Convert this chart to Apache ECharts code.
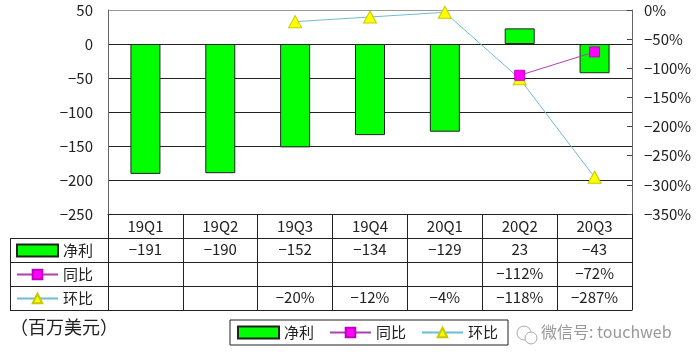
<!DOCTYPE html>
<html><head><meta charset="utf-8">
<script src="https://cdn.jsdelivr.net/npm/echarts@6/dist/echarts.min.js"></script>
<style>html,body{margin:0;padding:0;background:#fff}#c{width:700px;height:363px}</style>
</head><body><div id="c"></div>
<script>
const categories = ['19Q1','19Q2','19Q3','19Q4','20Q1','20Q2','20Q3'];
const netProfit = [-191, -190, -152, -134, -129, 23, -43];
const yoy = [null, null, null, null, null, -112, -72];
const qoq = [null, null, -20, -12, -4, -118, -287];
const leftTicks = {min: -250, max: 50, interval: 50};
const rightTicks = {min: -350, max: 0, interval: 50};

const FONT = '"Noto Sans CJK SC", "DejaVu Sans", sans-serif';
const minus = s => String(s).replace('-', '\u2212');
const pct = v => (v == null ? '' : minus(v) + '%');
const rowAxis = (offset, data) => ({
  type: 'category', position: 'bottom', offset: offset, data: data,
  axisLine: {show: true, onZero: false, lineStyle: {color: '#222', width: 1}},
  axisTick: {show: false}, splitLine: {show: false},
  axisLabel: {show: true, interval: 0, margin: 4, color: '#222', fontSize: 15, fontFamily: FONT}
});

const chart = echarts.init(document.getElementById('c'));
chart.setOption({
  animation: false,
  textStyle: {fontFamily: FONT},
  grid: {left: 108, right: 68, top: 10, bottom: 149, containLabel: false},
  legend: [
    {data: [{name: '净利', icon: 'rect'}], left: 16, top: 243, padding: 0, itemWidth: 41, itemHeight: 12,
     textStyle: {fontSize: 15, color: '#222', fontFamily: FONT}, selectedMode: false},
    {data: ['同比'], left: 16, top: 267, padding: 0, itemWidth: 41, itemHeight: 12,
     textStyle: {fontSize: 15, color: '#222', fontFamily: FONT}, selectedMode: false},
    {data: ['环比'], left: 16, top: 291, padding: 0, itemWidth: 41, itemHeight: 12,
     textStyle: {fontSize: 15, color: '#222', fontFamily: FONT}, selectedMode: false},
    {data: [{name: '净利', icon: 'rect'}, '同比', '环比'], left: 230, top: 320, padding: [5, 10, 5, 7],
     borderColor: '#222', borderWidth: 1, itemWidth: 41, itemHeight: 12, itemGap: 15,
     textStyle: {fontSize: 15, color: '#222', fontFamily: FONT}, selectedMode: false}
  ],
  xAxis: [
    {type: 'category', data: categories, position: 'bottom',
     axisLine: {show: true, onZero: false, lineStyle: {color: '#222'}},
     axisTick: {show: true, interval: 0, length: 96, lineStyle: {color: '#222'}},
     axisLabel: {interval: 0, margin: 5, color: '#222', fontSize: 15, fontFamily: FONT}},
    rowAxis(24, netProfit.map(minus)),
    rowAxis(48, yoy.map(pct)),
    rowAxis(72, qoq.map(pct)),
    Object.assign(rowAxis(96, categories.map(() => '')), {axisLabel: {show: false}})
  ],
  yAxis: [
    {type: 'value', min: leftTicks.min, max: leftTicks.max, interval: leftTicks.interval,
     axisLine: {show: true, lineStyle: {color: '#666'}}, axisTick: {show: false},
     axisLabel: {margin: 15, color: '#222', fontSize: 15, fontFamily: FONT, formatter: v => minus(v)},
     splitLine: {show: true, lineStyle: {color: ['#222','#222','#222','#222','#222','#222','#999'], width: 1}}},
    {type: 'value', min: rightTicks.min, max: rightTicks.max, interval: rightTicks.interval, position: 'right',
     axisLine: {show: true, lineStyle: {color: '#666'}},
     axisTick: {show: true, inside: true, length: 5, lineStyle: {color: '#444'}},
     axisLabel: {margin: 12, color: '#222', fontSize: 15, fontFamily: FONT, formatter: v => minus(v) + '%'},
     splitLine: {show: false}}
  ],
  series: [
    {name: '净利', type: 'bar', data: netProfit, barWidth: 30, xAxisIndex: 0, yAxisIndex: 0,
     itemStyle: {color: '#00FF00', borderColor: '#222', borderWidth: 1}, z: 2},
    {name: '环比', type: 'line', data: qoq, xAxisIndex: 0, yAxisIndex: 1,
     symbol: 'triangle', symbolSize: [13, 12], showAllSymbol: true,
     lineStyle: {color: '#6DBCD6', width: 1},
     itemStyle: {color: '#FFFF00', borderColor: '#C8C800', borderWidth: 1}, z: 3},
    {name: '同比', type: 'line', data: yoy, xAxisIndex: 0, yAxisIndex: 1,
     symbol: 'rect', symbolSize: 10, showAllSymbol: true,
     lineStyle: {color: '#B040B0', width: 1},
     itemStyle: {color: '#FF00FF', borderColor: '#C000C0', borderWidth: 1}, z: 4}
  ],
  graphic: [
    {type: 'line', shape: {x1: 10, y1: 238.5, x2: 108, y2: 238.5}, style: {stroke: '#222', lineWidth: 1}},
    {type: 'line', shape: {x1: 10, y1: 262.5, x2: 108, y2: 262.5}, style: {stroke: '#222', lineWidth: 1}},
    {type: 'line', shape: {x1: 10, y1: 286.5, x2: 108, y2: 286.5}, style: {stroke: '#222', lineWidth: 1}},
    {type: 'line', shape: {x1: 10, y1: 310.5, x2: 108, y2: 310.5}, style: {stroke: '#222', lineWidth: 1}},
    {type: 'line', shape: {x1: 10.5, y1: 238, x2: 10.5, y2: 311}, style: {stroke: '#222', lineWidth: 1}},
    {type: 'text', left: 10, top: 318, style: {text: '（百万美元）', font: '18px ' + FONT, fill: '#222'}},
    {type: 'circle', shape: {cx: 524, cy: 333, r: 7}, style: {fill: 'none', stroke: '#aaa', lineWidth: 1}},
    {type: 'circle', shape: {cx: 531, cy: 338, r: 6}, style: {fill: '#fff', stroke: '#aaa', lineWidth: 1}},
    {type: 'text', left: 541, top: 324, style: {text: '微信号: touchweb', font: '16px ' + FONT, fill: '#999'}}
  ]
});
</script></body></html>
